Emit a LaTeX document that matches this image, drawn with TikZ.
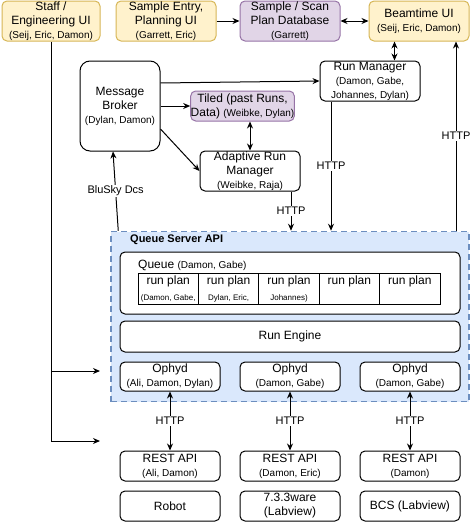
\documentclass[tikz,border=0pt]{standalone}
\usepackage{fontspec}
\setmainfont{Liberation Sans}
\usetikzlibrary{arrows.meta,calc}
\definecolor{yelF}{HTML}{FFF2CC}
\definecolor{yelD}{HTML}{D6B656}
\definecolor{purF}{HTML}{E1D5E7}
\definecolor{purD}{HTML}{9673A6}
\definecolor{bluF}{HTML}{DAE8FC}
\definecolor{bluD}{HTML}{6C8EBF}
\newcommand\mtxt{\fontsize{12}{14}\selectfont}
\newcommand\smtxt{\fontsize{10}{12}\selectfont}
\newcommand\tntxt{\fontsize{8}{10}\selectfont}
\newcommand\lbtxt{\fontsize{11}{13}\selectfont}
\begin{document}
\begin{tikzpicture}[x=1pt,y=-1pt,
 box/.style={draw, rounded corners=5pt, fill=white, align=center, font=\mtxt, inner sep=0pt, line width=1pt},
 yel/.style={box, fill=yelF, draw=yelD},
 pur/.style={box, fill=purF, draw=purD},
 arr/.style={-{Stealth[length=7pt,width=6pt]}, line width=1pt},
 darr/.style={{Stealth[length=7pt,width=6pt]}-{Stealth[length=7pt,width=6pt]}, line width=1pt},
 lbl/.style={fill=white, font=\lbtxt, inner sep=1pt},
 cell/.style={draw, line width=0.8pt, minimum height=31pt, minimum width=60.4pt, inner sep=0pt},
 wide/.style={minimum width=100pt, minimum height=40pt},
]
\useasboundingbox (0,0) rectangle (472,522);

% top row
\node[yel, minimum width=98pt, minimum height=40pt] (staff) at (51,21) {Staff /\\Engineering UI\\{\smtxt (Seij, Eric, Damon)}};
\node[yel, wide] (sample) at (166,21) {Sample Entry,\\Planning UI\\{\smtxt (Garrett, Eric)}};
\node[pur, wide] (db) at (290,21) {Sample / Scan\\Plan Database\\{\smtxt (Garrett)}};
\node[yel, wide] (beam) at (419,21) {Beamtime UI\\{\smtxt (Seij, Eric, Damon)}};

% middle
\node[box, wide] (runmgr) at (370,81) {Run Manager\\{\smtxt (Damon, Gabe,}\\{\smtxt Johannes, Dylan)}};
\node[box, rounded corners=10pt, minimum width=80pt, minimum height=90pt] (broker) at (120,106) {Message\\Broker\\{\smtxt (Dylan, Damon)}};
\node[pur, minimum width=95pt, minimum height=30pt] (tiled) at (242.5,106) {Tiled (past Runs,\\Data) {\smtxt (Weibke, Dylan)}};
\node[box, wide] (arm) at (250,171) {Adaptive Run\\Manager\\{\smtxt (Weibke, Raja)}};

% queue server container
\node[draw=bluD, fill=bluF, dash pattern=on 6pt off 4pt, line width=1.5pt, minimum width=358pt, minimum height=170pt, inner sep=0pt] (qs) at (290,316.5) {};
\node[anchor=west, font=\lbtxt\bfseries, inner sep=0pt] (qstitle) at (130,240) {Queue Server API};

\node[box, minimum width=340pt, minimum height=62pt] (queue) at (290,283) {};
\node[anchor=west, inner sep=0pt] (qlabel) at (138,265) {\mtxt Queue {\smtxt (Damon, Gabe)}};
\foreach \i/\cx/\sub in {1/168.2/{(Damon, Gabe,},2/228.6/{Dylan, Eric,},3/289/{Johannes)},4/349.4/{},5/409.8/{}}{
  \node[cell] (c\i) at (\cx,288.5) {};
  \node[font=\mtxt, inner sep=0pt] (ct\i) at (\cx,281) {run plan};
  \node[font=\tntxt, inner sep=0pt] (cs\i) at (\cx,298) {\sub};
}
\node[box, minimum width=340pt, minimum height=31pt] (re) at (290,336.5) {Run Engine};
\node[box, minimum width=100pt, minimum height=29pt] (oph1) at (170,376.5) {Ophyd\\{\smtxt (Ali, Damon, Dylan)}};
\node[box, minimum width=100pt, minimum height=29pt] (oph2) at (290,376.5) {Ophyd\\{\smtxt (Damon, Gabe)}};
\node[box, minimum width=100pt, minimum height=29pt] (oph3) at (410,376.5) {Ophyd\\{\smtxt (Damon, Gabe)}};

% bottom
\node[box, minimum width=100pt, minimum height=30pt] (rest1) at (170,466) {REST API\\{\smtxt (Ali, Damon)}};
\node[box, minimum width=100pt, minimum height=30pt] (rest2) at (290,466) {REST API\\{\smtxt (Damon, Eric)}};
\node[box, minimum width=100pt, minimum height=30pt] (rest3) at (410,466) {REST API\\{\smtxt (Damon)}};
\node[box, minimum width=100pt, minimum height=30pt] (dev1) at (170,506) {Robot};
\node[box, minimum width=100pt, minimum height=30pt] (dev2) at (290,506) {7.3.3ware\\(Labview)};
\node[box, minimum width=100pt, minimum height=30pt] (dev3) at (410,506) {BCS (Labview)};

% connectors
\draw[arr] (sample.east) -- (db.west);
\draw[darr] (db.east) -- (beam.west);
\coordinate (bx) at (394.5,0);
\draw[darr] (beam.south -| bx) -- (runmgr.north -| bx);
\draw[arr] ($(broker.east)+(0,-23)$) -- (runmgr.west);
\draw[arr] (broker.east) -- (tiled.west);
\draw[darr] (arm.north |- tiled.south) -- (arm.north);
\draw[arr] ($(broker.east)+(0,23)$) -- (arm.west);
\coordinate (hx1) at (291,0);
\draw[arr] (arm.south -| hx1) -- node[lbl]{HTTP} (qs.north -| hx1);
\coordinate (hx2) at (331,0);
\draw[arr] (runmgr.south -| hx2) -- node[lbl]{HTTP} (qs.north -| hx2);
\coordinate (hx3) at (456,0);
\draw[arr] (qs.north -| hx3) -- node[lbl]{HTTP} (beam.south -| hx3);
\draw[arr] ($(qs.north west)+(8,0)$) -- node[lbl]{BluSky Dcs} ($(broker.south)+(-7,0)$);

\coordinate (e1) at (100,371);
\coordinate (e2) at (100,441);
\draw[arr] (staff.south) |- (e2);
\draw[arr] (staff.south |- e1) -- (e1);

\draw[darr] (rest1.north) -- node[lbl]{HTTP} (oph1.south);
\draw[darr] (rest2.north) -- node[lbl]{HTTP} (oph2.south);
\draw[darr] (rest3.north) -- node[lbl]{HTTP} (oph3.south);
\end{tikzpicture}
\end{document}
